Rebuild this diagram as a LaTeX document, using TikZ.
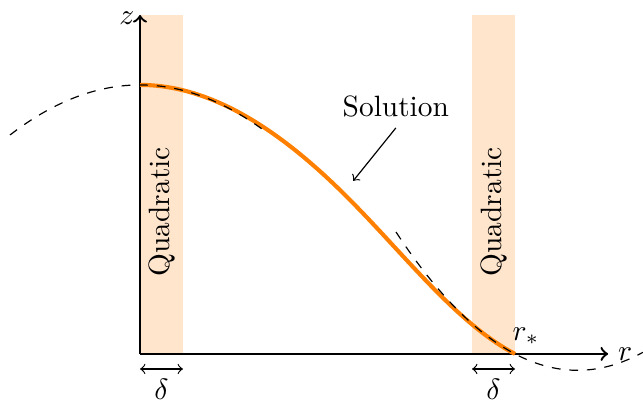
\documentclass[tikz,border=0pt]{standalone}
\usepackage{amsmath}
\usepackage{tikz}
\usetikzlibrary{positioning,arrows}
\tikzset{
    quadband/.style={fill=orange!20, draw=none},
    solution/.style={orange, line width=1.4pt},
    quadfit/.style={dashed, thin},
    widtharrow/.style={<->, thin},
}

\begin{document}
\begin{tikzpicture}
            \useasboundingbox (-1.675,-0.586) rectangle (6.017,4.234);

            % Shaded quadratic regions
            \fill[quadband] (0,0) rectangle (0.514,4.06);
            \fill[quadband] (3.972,0) rectangle (4.486,4.06);
            \node[rotate=90] (quadleft) at (0.257,1.70) {Quadratic};
            \node[rotate=90] (quadright) at (4.229,1.70) {Quadratic};

            % Axes
            \coordinate (origin) at (0,0);
            \coordinate (zend) at (0,4.055);
            \coordinate (rend) at (5.60,0);
            \draw[thick, ->] (origin) -- (zend) node[left, inner sep=1.5pt, yshift=-1pt] (zlabel) {$z$};
            \draw[thick, ->] (origin) -- (rend) node[right, inner sep=3pt] (rlabel) {$r$};

            % Solution curve
            \draw[solution] (0,3.218) .. controls (0.853,3.218) and (1.676,2.678) .. (2.476,1.878)
                .. controls (3.176,1.178) and (3.786,0.3675) .. (4.486,0);

            % Quadratic approximations at both ends
            \draw[quadfit] plot[domain=-1.555:1.495, samples=50] (\x, {3.218-0.2475*\x*\x});
            \draw[quadfit] plot[domain=3.062:6.017, samples=60] (\x, {0.351*(\x-4.486)*(\x-5.98)});

            % Edge label
            \node[above right, inner sep=1pt, xshift=-2pt, yshift=2pt] (rstar) at (4.486,0) {$r_*$};

            % Solution label
            \node (sollabel) at (3.06,2.955) {Solution};
            \coordinate (soltip) at (2.55,2.07);
            \draw[->] (sollabel.south) -- (soltip);

            % Widths of the quadratic regions
            \coordinate (dleftA) at (0,-0.18);
            \coordinate (dleftB) at (0.514,-0.18);
            \coordinate (drightA) at (3.972,-0.18);
            \coordinate (drightB) at (4.486,-0.18);
            \draw[widtharrow] (dleftA) -- (dleftB) node[midway, below] (dleft) {$\delta$};
            \draw[widtharrow] (drightA) -- (drightB) node[midway, below] (dright) {$\delta$};

        \end{tikzpicture}
\end{document}
